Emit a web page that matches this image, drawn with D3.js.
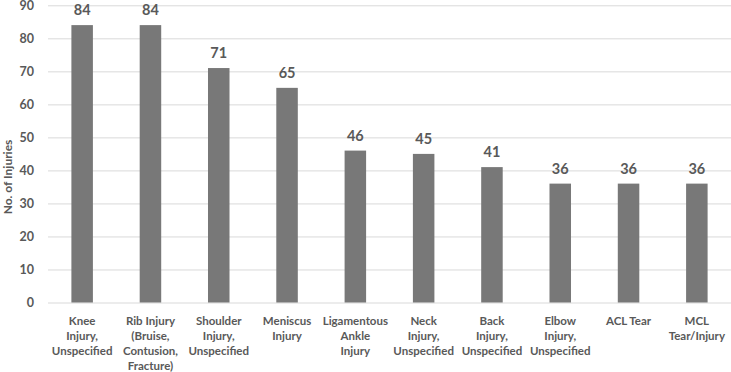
<!DOCTYPE html>
<meta charset="utf-8">
<style>
    body { margin: 0; background: #fff; }
    text { font-family: Lato, "Open Sans", sans-serif; fill: #595959; }
    .tick text { font-size: 12.5px; font-weight: bold; }
    .cat text { font-size: 11.5px; font-weight: bold; text-anchor: middle; }
    .val { font-size: 14.5px; font-weight: bold; text-anchor: middle; }
</style>
<svg width="731" height="372"></svg>
<script src="https://d3js.org/d3.v7.min.js"></script>
<script>

    var categories = [
        ["Knee", "Injury,", "Unspecified"],
        ["Rib Injury", "(Bruise,", "Contusion,", "Fracture)"],
        ["Shoulder", "Injury,", "Unspecified"],
        ["Meniscus", "Injury"],
        ["Ligamentous", "Ankle", "Injury"],
        ["Neck", "Injury,", "Unspecified"],
        ["Back", "Injury,", "Unspecified"],
        ["Elbow", "Injury,", "Unspecified"],
        ["ACL Tear"],
        ["MCL", "Tear/Injury"]
    ];
    var injuries = [84, 84, 71, 65, 46, 45, 41, 36, 36, 36];
    var yTicks = [0, 10, 20, 30, 40, 50, 60, 70, 80, 90];

    var svg = d3.select("svg"),
        plotLeft = 48, plotRight = 731, plotTop = 5.3, plotBottom = 302.5;

    var keys = categories.map(function(c, i) { return i; });

    var x = d3.scaleBand()
        .domain(keys)
        .range([plotLeft, plotRight])
        .paddingInner(0.685)
        .paddingOuter(0.3425);

    var y = d3.scaleLinear()
        .domain([0, 90])
        .range([plotBottom, plotTop]);

    // gridlines + tick labels
    var yAxis = svg.append("g")
        .attr("transform", "translate(" + plotLeft + ",0)")
        .call(d3.axisLeft(y).tickValues(yTicks).tickSize(-(plotRight - plotLeft)).tickPadding(14));
    yAxis.select(".domain").remove();
    yAxis.selectAll(".tick line").attr("stroke", "#d9d9d9").attr("stroke-width", 1);
    yAxis.selectAll(".tick text").attr("fill", "#595959");

    // bars
    svg.selectAll(".bar")
        .data(injuries)
        .enter().append("rect")
        .attr("class", "bar")
        .attr("x", function(d, i) { return x(i); })
        .attr("width", x.bandwidth())
        .attr("y", function(d) { return y(d); })
        .attr("height", function(d) { return plotBottom - y(d); })
        .attr("fill", "#787878");

    // value labels
    svg.selectAll(".val")
        .data(injuries)
        .enter().append("text")
        .attr("class", "val")
        .attr("x", function(d, i) { return x(i) + x.bandwidth() / 2; })
        .attr("y", function(d) { return y(d) - 10; })
        .text(function(d) { return d; });

    // category labels
    var cat = svg.append("g").attr("class", "cat")
        .selectAll("text")
        .data(categories)
        .enter().append("text")
        .attr("x", function(d, i) { return x(i) + x.bandwidth() / 2; })
        .attr("y", 324.5);
    cat.selectAll("tspan")
        .data(function(d) { return d; })
        .enter().append("tspan")
        .attr("x", function() { return d3.select(this.parentNode).attr("x"); })
        .attr("dy", function(d, i) { return i ? 15 : 0; })
        .text(function(d) { return d; });

    // y axis title
    svg.append("text")
        .attr("transform", "translate(12," + 177 + ") rotate(-90)")
        .attr("text-anchor", "middle")
        .style("font-size", "12px")
        .style("font-weight", "bold")
        .text("No. of Injuries");
</script>
